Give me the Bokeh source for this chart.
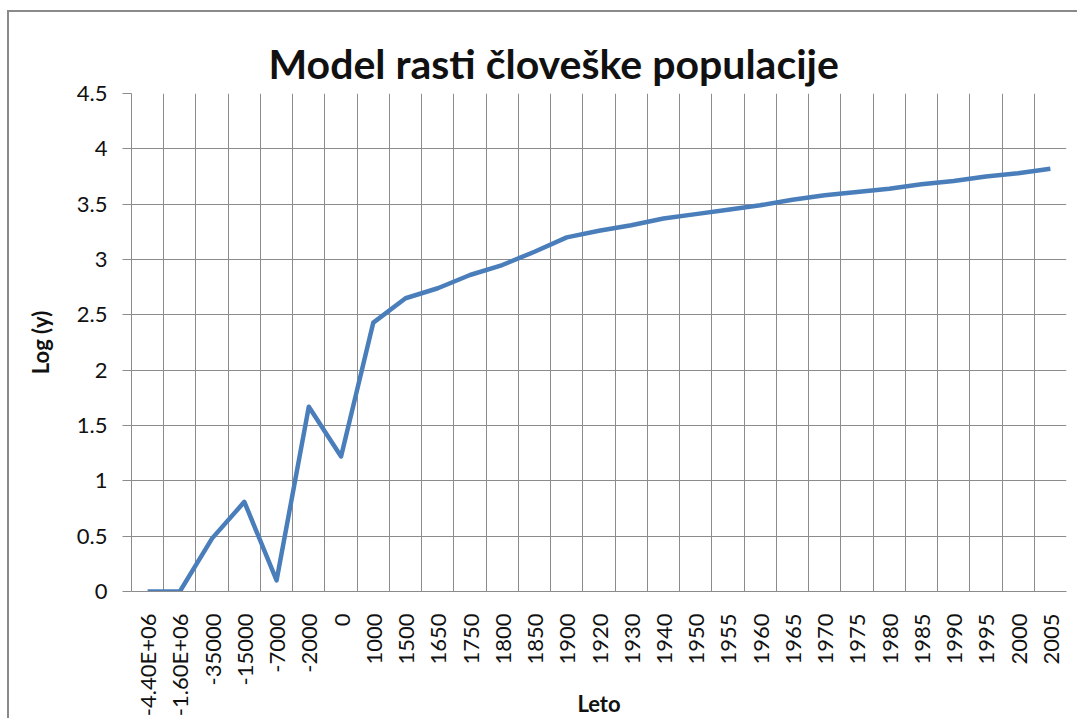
import math
from bokeh.plotting import figure
from bokeh.models import Range1d, FixedTicker, CustomJSTickFormatter, ColumnDataSource
from bokeh.embed import file_html
from bokeh.resources import INLINE

# ---- data ----
years = ["-4.40E+06", "-1.60E+06", "-35000", "-15000", "-7000", "-2000", "0",
         "1000", "1500", "1650", "1750", "1800", "1850", "1900", "1920", "1930",
         "1940", "1950", "1955", "1960", "1965", "1970", "1975", "1980", "1985",
         "1990", "1995", "2000", "2005"]
log_pop = [0, 0, 0.48, 0.81, 0.10, 1.67, 1.22,
           2.43, 2.65, 2.74, 2.86, 2.95, 3.07, 3.20, 3.26, 3.31,
           3.37, 3.41, 3.45, 3.49, 3.54, 3.58, 3.61, 3.64, 3.68,
           3.71, 3.75, 3.78, 3.82]
y_ticks = [0, 0.5, 1, 1.5, 2, 2.5, 3, 3.5, 4, 4.5]
title_text = "Model rasti človeške populacije"
x_title = "Leto"
y_title = "Log (y)"

# ---- styling ----
FONT = "Lato"
GRID = "#8c8c8c"
LINE = "#4a7ebb"
TXT = "#111111"
W, H = 1070, 708

n = len(years)
src = ColumnDataSource(dict(x=[i + 0.5 for i in range(n)], y=log_pop, label=years))

p = figure(width=W, height=H, x_range=Range1d(0, n), y_range=Range1d(0, y_ticks[-1]),
           output_backend="svg", toolbar_location=None,
           min_border_left=122, min_border_right=13, min_border_top=81, min_border_bottom=127)
p.outline_line_color = None
p.background_fill_color = "white"
p.border_fill_color = "white"
p.styles = {"border-left": "2px solid #8a8a8a", "border-top": "2px solid #8a8a8a",
            "margin-top": "10px", "margin-left": "7px"}

# title
p.title.text = title_text
p.title.align = "left"
p.title.offset = 137
p.title.text_font = FONT
p.title.text_font_size = "41px"
p.title.text_font_style = "bold"
p.title.text_color = TXT
p.title.standoff = 11

# grid
p.xgrid.ticker = FixedTicker(ticks=list(range(0, n + 1)))
p.ygrid.ticker = FixedTicker(ticks=y_ticks)
for g in (p.xgrid, p.ygrid):
    g.grid_line_color = GRID
    g.grid_line_width = 1

# x axis
xa = p.xaxis[0]
xa.ticker = FixedTicker(ticks=[i + 0.5 for i in range(n)])
xa.formatter = CustomJSTickFormatter(args=dict(labels=years), code="return labels[Math.floor(tick)];")
xa.major_label_orientation = math.pi / 2
xa.major_tick_in = 0
xa.major_tick_out = 0
xa.minor_tick_line_color = None
xa.axis_line_color = GRID
xa.major_label_standoff = 22
xa.major_label_text_font = FONT
xa.major_label_text_font_size = "22px"
xa.major_label_text_color = TXT
xa.axis_label = x_title
xa.axis_label_text_font = FONT
xa.axis_label_text_font_size = "22px"
xa.axis_label_text_font_style = "bold"
xa.axis_label_text_color = TXT
xa.axis_label_standoff = -29

# y axis
ya = p.yaxis[0]
ya.ticker = FixedTicker(ticks=y_ticks)
ya.formatter = CustomJSTickFormatter(code="return String(tick);")
ya.major_tick_in = 0
ya.major_tick_out = 9
ya.major_tick_line_color = GRID
ya.minor_tick_line_color = None
ya.axis_line_color = GRID
ya.major_label_standoff = 15
ya.major_label_text_font = FONT
ya.major_label_text_font_size = "22px"
ya.major_label_text_color = TXT
ya.axis_label = y_title
ya.axis_label_text_font = FONT
ya.axis_label_text_font_size = "22px"
ya.axis_label_text_font_style = "bold"
ya.axis_label_text_color = TXT
ya.axis_label_standoff = 20

p.line("x", "y", source=src, line_color=LINE, line_width=4.5, line_join="round")

open("out.html", "w").write(file_html(p, INLINE))
